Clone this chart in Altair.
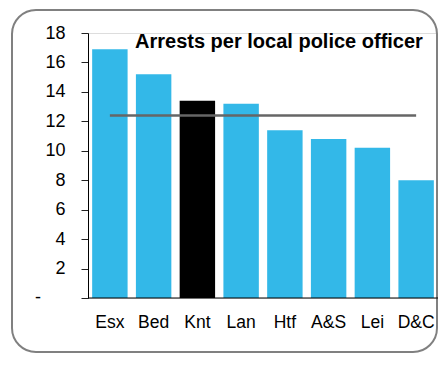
import altair as alt
import pandas as pd

forces = ["Esx", "Bed", "Knt", "Lan", "Htf", "A&S", "Lei", "D&C"]
arrests = [16.9, 15.2, 13.4, 13.2, 11.4, 10.8, 10.2, 8.0]
highlight = ["other", "other", "kent", "other", "other", "other", "other", "other"]
average = 12.4
y_ticks = [0, 2, 4, 6, 8, 10, 12, 14, 16, 18]
zero_label = ["-"]
title_text = "Arrests per local police officer"

FONT = "Liberation Sans, Arial, sans-serif"
BLUE = "#33B8E8"

W, H = 350, 265

bars_df = pd.DataFrame({"force": forces, "arrests": arrests, "group": highlight})
avg_df = pd.DataFrame({"force": [forces[0], forces[-1]], "arrests": [average, average]})
zero_df = pd.DataFrame({"arrests": [0], "t": zero_label})
title_df = pd.DataFrame({"t": [title_text]})
frame_df = pd.DataFrame({"a": [0]})

x_enc = alt.X(
    "force:N",
    sort=forces,
    title=None,
    scale=alt.Scale(paddingInner=0.19, paddingOuter=0.095),
    axis=alt.Axis(
        labelAngle=0,
        labelFont=FONT,
        labelFontSize=17.5,
        labelColor="#000000",
        labelPadding=15,
        labelOverlap=False,
        ticks=False,
        domain=False,
    ),
)

y_enc = alt.Y(
    "arrests:Q",
    title=None,
    scale=alt.Scale(domain=[0, 18], nice=False),
    axis=alt.Axis(
        values=y_ticks,
        labelFont=FONT,
        labelFontSize=18,
        labelColor="#000000",
        labelPadding=16,
        labelOverlap=False,
        labelFlush=False,
        labelBound=False,
        tickSize=7,
        tickColor="#222222",
        domainColor="#000000",
        grid=False,
        labelExpr="datum.value == 0 ? '' : datum.label",
    ),
)

bars = alt.Chart(bars_df).mark_bar().encode(
    x=x_enc,
    y=y_enc,
    color=alt.Color(
        "group:N",
        scale=alt.Scale(domain=["other", "kent"], range=[BLUE, "#000000"]),
        legend=None,
    ),
)

avg_line = alt.Chart(avg_df).mark_line(color="#666666", strokeWidth=2.5).encode(
    x=x_enc,
    y=y_enc,
)

zero_text = alt.Chart(zero_df).mark_text(
    font=FONT, fontSize=18, color="#000000", align="right", baseline="middle"
).encode(text="t:N", y=y_enc, x=alt.value(-47))

baseline = alt.Chart(frame_df).mark_rule(color="#000000", strokeWidth=1).encode(
    x=alt.value(0), x2=alt.value(W), y=alt.value(H)
)

title = alt.Chart(title_df).mark_text(
    font=FONT, fontSize=20, fontWeight="bold", color="#000000",
    align="left", baseline="alphabetic"
).encode(text="t:N", x=alt.value(47), y=alt.value(15))

frame = alt.Chart(frame_df).mark_rect(
    filled=False, stroke="#808080", strokeWidth=2, cornerRadius=24
).encode(
    x=alt.value(-76), x2=alt.value(W - 1), y=alt.value(-23), y2=alt.value(319)
)

chart = (
    alt.layer(frame, bars, baseline, avg_line, zero_text, title)
    .properties(
        width=W,
        height=H,
        autosize=alt.AutoSizeParams(type="none"),
        padding={"left": 80, "top": 25, "right": 0, "bottom": 56},
    )
    .configure_view(strokeWidth=0)
    .configure(background="#ffffff")
)

chart.save("out.html", embed_options={"renderer": "svg", "actions": False})
